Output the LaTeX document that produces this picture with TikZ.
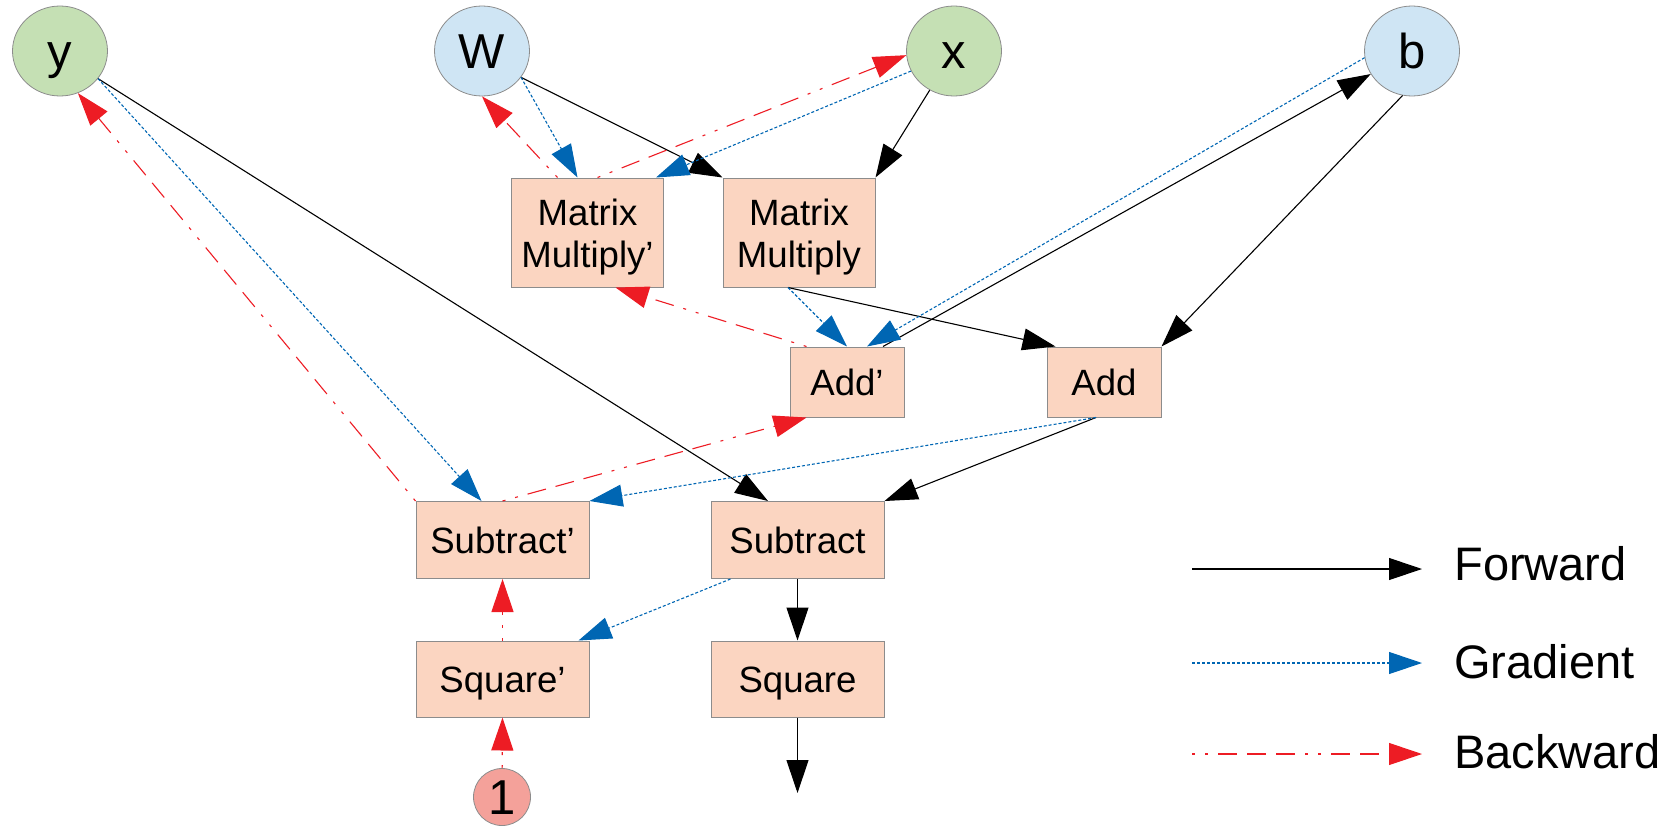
\documentclass[tikz,border=0pt]{standalone}
\usepackage{fontspec}
\setmainfont{Liberation Sans}
\usetikzlibrary{arrows.meta,shapes.geometric,calc}
\definecolor{vgreen}{HTML}{C5E0B4}
\definecolor{vblue}{HTML}{CFE5F4}
\definecolor{boxfill}{HTML}{FBD5C1}
\definecolor{onefill}{HTML}{F4A19A}
\definecolor{gradblue}{HTML}{0066B3}
\definecolor{backred}{HTML}{ED1C24}
\definecolor{bordergray}{HTML}{8C8C8C}
\begin{document}
\begin{tikzpicture}[x=0.5pt,y=-0.5pt,
  varnode/.style={ellipse, draw=bordergray, line width=0.4pt, minimum width=47.5pt, minimum height=45pt, inner sep=0pt,
    font=\fontsize{24.5}{24.5}\selectfont, text height=17.5pt, text depth=0pt},
  opbox/.style={rectangle, draw=bordergray, line width=0.5pt, fill=boxfill, inner sep=0pt,
    font=\fontsize{18.3}{21}\selectfont, align=center},
  onebox/.style={opbox, text height=13.1pt, text depth=0pt},
  boxtext/.style={font=\fontsize{18.3}{21}\selectfont, align=center, inner sep=0pt},
  legtext/.style={font=\fontsize{23.5}{23.5}\selectfont, inner sep=0pt, anchor=base west},
  tip/.style={-{Triangle[length=16.5pt,width=11pt]}},
  fwd/.style={draw=black, line width=0.55pt, tip},
  grad/.style={draw=gradblue, line width=0.55pt, dash pattern=on 1.5pt off 1pt, tip},
  back/.style={draw=backred, line width=0.55pt,
    dash pattern=on 1.5pt off 5pt on 1.5pt off 5pt on 9.5pt off 5pt on 9.5pt off 5pt on 9.5pt off 5pt, tip}
]
\useasboundingbox (0,0) rectangle (1680,825);

% variable nodes
\node[varnode, fill=vgreen] (y) at (60,51) {y};
\node[varnode, fill=vblue] (W) at (482,51) {W};
\node[varnode, fill=vgreen] (x) at (954,51) {x};
\node[varnode, fill=vblue] (b) at (1412,51) {b};
\node[varnode, fill=onefill, minimum width=28.5pt, minimum height=28.5pt] (one) at (502,797) {1};

% operation boxes
\node[opbox, minimum width=76pt, minimum height=54.5pt] (MMp) at (587.5,232.5) {};
\node[boxtext] (MMpt) at ($(MMp)+(0,5)$) {Matrix\\Multiply’};
\node[opbox, minimum width=76pt, minimum height=54.5pt] (MM) at (799,232.5) {};
\node[boxtext] (MMt) at ($(MM)+(0,5)$) {Matrix\\Multiply};
\node[onebox, minimum width=57pt, minimum height=35pt] (Addp) at (847,382) {Add’};
\node[onebox, minimum width=57pt, minimum height=35pt] (Add) at (1104,382) {Add};
\node[onebox, minimum width=86.5pt, minimum height=38.5pt] (Subp) at (502.5,540) {Subtract’};
\node[onebox, minimum width=86.5pt, minimum height=38.5pt] (Sub) at (797.5,540) {Subtract};
\node[onebox, minimum width=86.5pt, minimum height=38pt] (Sqp) at (502.5,679) {Square’};
\node[onebox, minimum width=86.5pt, minimum height=38pt] (Sq) at (797.5,679) {Square};
\coordinate (out) at (797.5,793);

% forward
\draw[fwd] (W.-34) -- (MM.north west);
\draw[fwd] (x) -- (MM.north east);
\draw[fwd] (y.-36) -- ($(Sub.north)+(-29.5,0)$);
\draw[fwd] ($(MM.south)+(-11,0)$) -- ($(Add.north west)+(9,0)$);
\draw[fwd] (b.258) -- (Add.north east);
\draw[fwd] ($(Add.south)+(-8,0)$) -- (Sub.north east);
\draw[fwd] ($(Addp.north)+(36,0)$) -- (b);
\draw[fwd] (Sub.south) -- (Sq.north);
\draw[fwd] (Sq.south) -- (out);

% gradient
\draw[grad] (W.-34) -- ($(MMp.north)+(-10,0)$);
\draw[grad] (x.205) -- ($(MMp.north east)+(-8,0)$);
\draw[grad] ($(MM.south)+(-11,0)$) -- (Addp.north);
\draw[grad] (b.188) -- ($(Addp.north)+(20,0)$);
\draw[grad] (y.-36) -- ($(Subp.north)+(-21,0)$);
\draw[grad] ($(Add.south)+(-8,0)$) -- (Subp.north east);
\draw[grad] ($(Sub.south west)+(20,0)$) -- ($(Sqp.north east)+(-11,0)$);

% backward
\draw[back] ($(MMp.north)+(-30,0)$) -- (W.south);
\draw[back] ($(MMp.north)+(10,0)$) -- (x.185);
\draw[back] ($(Addp.north west)+(17,0)$) -- ($(MMp.south)+(28,0)$);
\draw[back] (Subp.north) -- ($(Addp.south west)+(17,0)$);
\draw[back] (Subp.north west) -- (y.-67);
\draw[back] (Sqp.north) -- (Subp.south);
\draw[back] (one) -- (Sqp.south);

% legend
\coordinate (lfa) at (1192,569); \coordinate (lfb) at (1422,569);
\coordinate (lga) at (1192,663); \coordinate (lgb) at (1422,663);
\coordinate (lba) at (1192,754); \coordinate (lbb) at (1422,754);
\draw[fwd] (lfa) -- (lfb);
\draw[grad] (lga) -- (lgb);
\draw[back] (lba) -- (lbb);
\node[legtext] (lf) at (1454,580) {Forward};
\node[legtext] (lg) at (1454,678) {Gradient};
\node[legtext] (lb) at (1454,768) {Backward};
\end{tikzpicture}
\end{document}
